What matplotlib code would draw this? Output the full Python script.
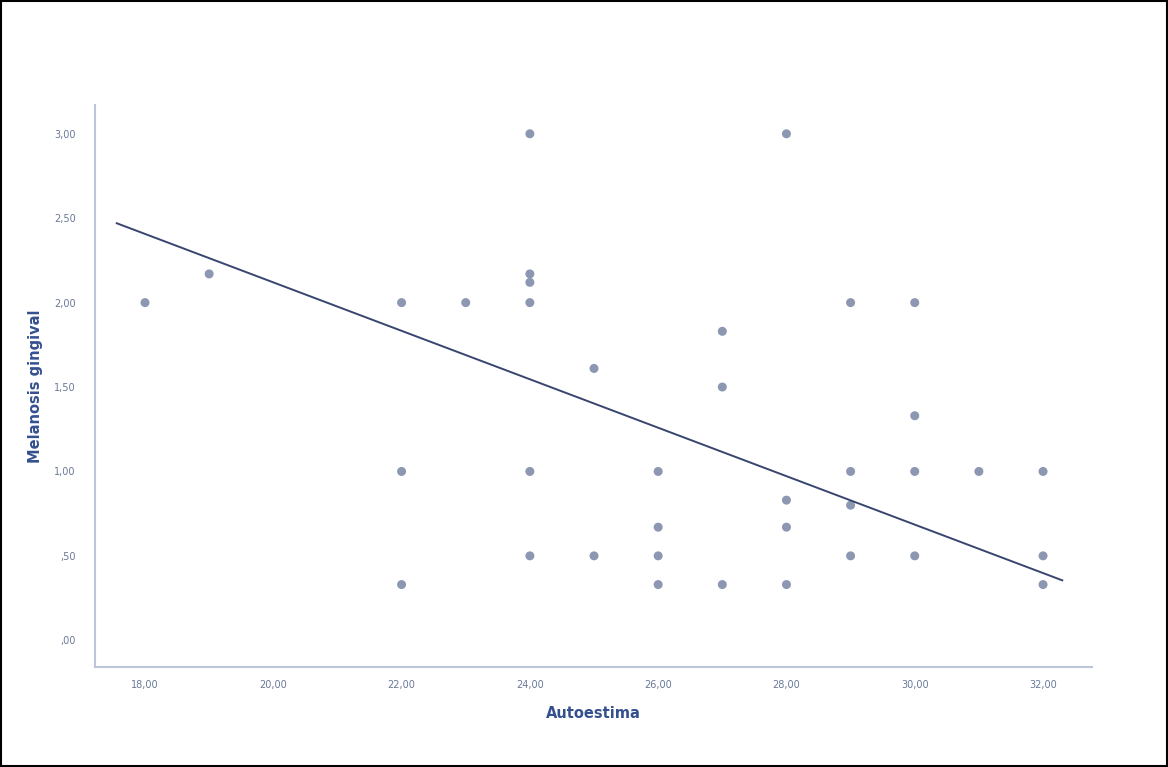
import numpy as np
import matplotlib
matplotlib.use('Agg')
import matplotlib.pyplot as plt
from matplotlib.patches import Rectangle
from matplotlib.ticker import FuncFormatter


# Autoestima (x) vs Melanosis gingival (y)
autoestima = [18, 19, 22, 22, 22, 23, 24, 24, 24, 24, 24, 24, 25, 25,
              26, 26, 26, 26, 27, 27, 27, 28, 28, 28, 28,
              29, 29, 29, 29, 30, 30, 30, 30, 31, 32, 32, 32]
melanosis = [2.00, 2.17, 2.00, 1.00, 0.33, 2.00, 3.00, 2.17, 2.12, 2.00, 1.00, 0.50, 1.61, 0.50,
             1.00, 0.67, 0.50, 0.33, 1.83, 1.50, 0.33, 3.00, 0.83, 0.67, 0.33,
             2.00, 1.00, 0.80, 0.50, 2.00, 1.33, 1.00, 0.50, 1.00, 1.00, 0.50, 0.33]

# fit line end points
fit_x = [17.56, 32.30]
fit_y = [2.47, 0.355]

x_ticks = [18, 20, 22, 24, 26, 28, 30, 32]
y_ticks = [0, 0.5, 1.0, 1.5, 2.0, 2.5, 3.0]


def comma_fmt(v, pos):
    s = '%.2f' % v
    if s.startswith('0.'):
        s = s[1:]
    return s.replace('.', ',')


fig = plt.figure(figsize=(11.68, 7.67), dpi=100)
ax = fig.add_axes([0.0813, 0.130, 0.854, 0.733])

ax.scatter(autoestima, melanosis, s=42, color='#8c97b2', edgecolors='none', zorder=2)
ax.plot(fit_x, fit_y, color='#38456f', lw=1.4, zorder=3)

ax.set_xlim(17.22, 32.77)
ax.set_ylim(-0.16, 3.17)
ax.set_xticks(x_ticks)
ax.set_yticks(y_ticks)
ax.xaxis.set_major_formatter(FuncFormatter(comma_fmt))
ax.yaxis.set_major_formatter(FuncFormatter(comma_fmt))
ax.tick_params(length=0, labelsize=7, colors='#6a7896')
ax.tick_params(axis='x', pad=9)
ax.tick_params(axis='y', pad=14)

for side in ['top', 'right']:
    ax.spines[side].set_visible(False)
for side in ['left', 'bottom']:
    ax.spines[side].set_color('#bcc6da')
    ax.spines[side].set_linewidth(1.5)

ax.set_xlabel('Autoestima', fontsize=10.5, fontweight='bold', color='#34508f', labelpad=12)
ax.set_ylabel('Melanosis gingival', fontsize=10.5, fontweight='bold', color='#34508f', labelpad=8)

fig.patches.append(Rectangle((0.001, 0.001), 0.998, 0.998, transform=fig.transFigure,
                             fill=False, edgecolor='black', lw=1.5))

fig.savefig('out.png', dpi=100)
